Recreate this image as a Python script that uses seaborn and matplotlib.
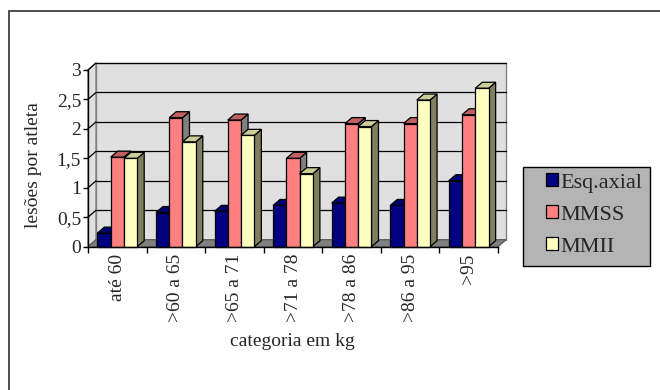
import numpy as np
import pandas as pd
import matplotlib
matplotlib.use("Agg")
import matplotlib.pyplot as plt
from matplotlib.patches import Polygon, Rectangle, Patch
from matplotlib.lines import Line2D
import seaborn as sns

# ---- data -------------------------------------------------------------
categories = ['até 60', '>60 a 65', '>65 a 71', '>71 a 78', '>78 a 86', '>86 a 95', '>95']
series_names = ['Esq.axial', 'MMSS', 'MMII']
esq_axial = [0.23, 0.58, 0.60, 0.70, 0.74, 0.70, 1.12]
mmss = [1.52, 2.19, 2.15, 1.50, 2.09, 2.09, 2.24]
mmii = [1.50, 1.78, 1.89, 1.24, 2.04, 2.49, 2.69]
y_ticks = [0, 0.5, 1, 1.5, 2, 2.5, 3]
y_tick_labels = ['0', '0,5', '1', '1,5', '2', '2,5', '3']

df = pd.DataFrame({
    'categoria': categories * 3,
    'serie': [s for s in series_names for _ in categories],
    'valor': esq_axial + mmss + mmii,
})

# face colours per series: front, top, side
front_cols = ['#000080', '#FF8080', '#FFFFC0']
top_cols = ['#000070', '#C06060', '#CCCC99']
side_cols = ['#000060', '#808080', '#808060']

sns.set_theme(style='white')
plt.rcParams['font.family'] = ['Liberation Serif', 'DejaVu Serif']
FS = 14

W, H = 660, 390
fig = plt.figure(figsize=(W / 100, H / 100), dpi=100)
fig.patch.set_facecolor('white')

# front plane of the plot box, in pixels
x0p, x1p, y0p, y1p = 88, 498, 246.7, 70
ax = fig.add_axes([x0p / W, 1 - y0p / H, (x1p - x0p) / W, (y0p - y1p) / H])
ax.patch.set_alpha(0)

n = len(categories)
xmin, xmax, ymin, ymax = -0.5, n - 0.5, 0, 3
ax.set_xlim(xmin, xmax)
ax.set_ylim(ymin, ymax)

# pixel -> data scale
sx = (xmax - xmin) / (x1p - x0p)
sy = (ymax - ymin) / (y0p - y1p)
wall_dx, wall_dy = 8 * sx, 7 * sy   # depth of the chart floor
bar_dx, bar_dy = 7 * sx, 6 * sy     # depth of each column

sns.barplot(data=df, x='categoria', y='valor', hue='serie', order=categories,
            hue_order=series_names, palette=front_cols, saturation=1,
            width=0.68, edgecolor='black', linewidth=0.9, legend=False, ax=ax)
ax.set_xlim(xmin, xmax)
ax.set_ylim(ymin, ymax)

# walls and floor
wall_kw = dict(closed=True, clip_on=False, linewidth=1.0)
back = Polygon([(xmin + wall_dx, ymin + wall_dy), (xmax + wall_dx, ymin + wall_dy),
                (xmax + wall_dx, ymax + wall_dy), (xmin + wall_dx, ymax + wall_dy)],
               facecolor='#E0E0E0', edgecolor='#808080', zorder=0.5, **wall_kw)
left = Polygon([(xmin, ymin), (xmin + wall_dx, ymin + wall_dy),
                (xmin + wall_dx, ymax + wall_dy), (xmin, ymax)],
               facecolor='#E0E0E0', edgecolor='#808080', zorder=0.5, **wall_kw)
floor = Polygon([(xmin, ymin), (xmax, ymin), (xmax + wall_dx, ymin + wall_dy),
                 (xmin + wall_dx, ymin + wall_dy)],
                facecolor='#808080', edgecolor='#606060', zorder=0.55, **wall_kw)
for p in (back, left, floor):
    ax.add_patch(p)

for v in y_ticks[1:]:
    ax.add_line(Line2D([xmin + wall_dx, xmax + wall_dx], [v + wall_dy, v + wall_dy],
                       color='black', lw=0.9, zorder=0.6, clip_on=False))
    ax.add_line(Line2D([xmin, xmin + wall_dx], [v, v + wall_dy],
                       color='black', lw=0.9, zorder=0.6, clip_on=False))

# turn the flat columns into boxes: top and side faces, drawn left to right
bars = []
for si, cont in enumerate(ax.containers):
    for rect in cont:
        bars.append((rect.get_x(), si, rect))
bars.sort(key=lambda t: t[0])
for k, (_, si, rect) in enumerate(bars):
    x = rect.get_x()
    w = rect.get_width()
    h = rect.get_height()
    z = 3 + 2 * k
    top = Polygon([(x, h), (x + w, h), (x + w + bar_dx, h + bar_dy), (x + bar_dx, h + bar_dy)],
                  facecolor=top_cols[si], edgecolor='black', lw=0.9, zorder=z, clip_on=False)
    side = Polygon([(x + w, 0), (x + w + bar_dx, bar_dy), (x + w + bar_dx, h + bar_dy), (x + w, h)],
                   facecolor=side_cols[si], edgecolor='black', lw=0.9, zorder=z, clip_on=False)
    ax.add_patch(side)
    ax.add_patch(top)
    rect.set_zorder(z + 1)
    rect.set_clip_on(False)

# axes
for s in ('top', 'right'):
    ax.spines[s].set_visible(False)
for s in ('left', 'bottom'):
    ax.spines[s].set_color('black')
    ax.spines[s].set_linewidth(1.0)
    ax.spines[s].set_zorder(50)

ax.set_yticks(y_ticks)
ax.set_yticklabels(y_tick_labels, fontsize=FS)
ax.tick_params(axis='y', direction='out', length=3.5, width=1.0, color='black', pad=1.5, left=True)
ax.set_xticks(range(n))
ax.set_xticklabels(categories, rotation=90, fontsize=FS, va='top', ha='center')
ax.set_xticks(np.arange(n + 1) - 0.5, minor=True)
ax.tick_params(axis='x', which='major', length=0, pad=5)
ax.tick_params(axis='x', which='minor', direction='out', length=4, width=1.0, color='black', bottom=True)
ax.set_xlabel('')
ax.set_ylabel('')
ax.grid(False)

fig.text(33 / W, 1 - 165 / H, 'lesões por atleta', rotation=90, ha='center', va='center', fontsize=FS)
fig.text(292 / W, 1 - 342 / H, 'categoria em kg', ha='center', va='center', fontsize=FS)

# legend box
lx0, ly0, lx1, ly1 = 523, 167, 650, 266
fig.patches.append(Rectangle((lx0 / W, 1 - ly1 / H), (lx1 - lx0) / W, (ly1 - ly0) / H,
                             transform=fig.transFigure, facecolor='#B4B4B4',
                             edgecolor='black', lw=1.0, zorder=1))
handles = [Patch(facecolor=c, edgecolor='black', lw=0.9) for c in front_cols]
leg = fig.legend(handles, series_names, loc='upper left',
                 bbox_to_anchor=(546 / W, 1 - 173 / H), frameon=False, fontsize=16,
                 handlelength=0.55, handleheight=0.55, handletextpad=0.08,
                 labelspacing=0.56, borderpad=0, borderaxespad=0)
leg.set_zorder(5)

# outer chart border
fig.patches.append(Rectangle((9 / W, -0.1), 1.2, 1 - 11 / H + 0.1, transform=fig.transFigure,
                             facecolor='none', edgecolor='#303030', lw=1.2, zorder=0))

fig.savefig('out.png', dpi=100)
